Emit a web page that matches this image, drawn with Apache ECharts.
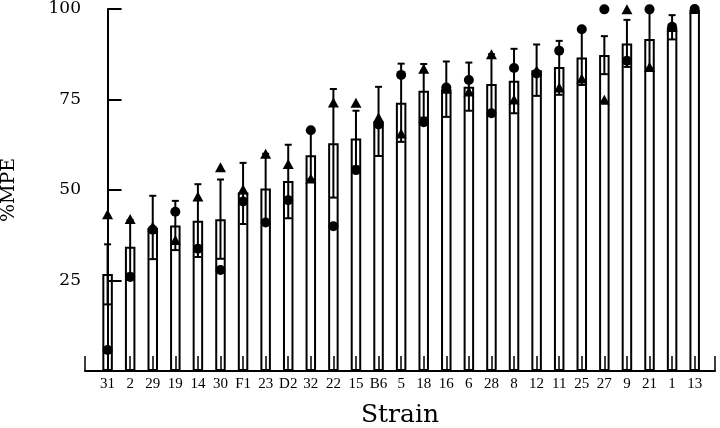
<!DOCTYPE html>
<html>
<head>
<meta charset="utf-8">
<script src="https://cdn.jsdelivr.net/npm/echarts@6/dist/echarts.min.js"></script>
<style>
  html, body { margin: 0; padding: 0; background: #fff; }
  #main { width: 720px; height: 428px; }
</style>
</head>
<body>
<div id="main"></div>
<script>
var strains = ['31','2','29','19','14','30','F1','23','D2','32','22','15','B6','5','18','16','6','28','8','12','11','25','27','9','21','1','13'];
var mpe = [26.8,34.3,39.5,40.2,41.5,41.9,49.3,50.4,52.5,59.6,62.9,64.2,68.9,74.1,77.4,77.8,78.5,79.3,80.2,83.1,84.0,86.6,87.3,90.5,91.7,94.8,99.7];
var errHigh = [35,41.7,48.4,47,51.6,52.9,57.5,60,62.5,66.3,77.9,71.9,78.5,84.9,84.8,85.5,85.2,87.5,89,90.2,91.2,94.4,92.5,97,99.9,98.3,99.7];
var errLow = [18.4,26.9,30.9,33.4,31.5,31,40.6,41,42.2,53,47.9,56.5,59.4,63.3,70,70.2,71.9,71.2,71.2,76,76.3,79,82,84,83.6,91.6,99.7];
var triangles = [43.3,42,39.9,36.2,48.2,56.3,50.2,60,57.2,53.2,74.2,74.1,70,65.6,83.5,78,77.2,87.5,75,83,78.3,80.8,74.9,99.9,84,95,100];
var circles = [5.8,26,39,44,33.8,27.9,46.8,41,47.2,66.5,40,55.5,68.1,81.8,68.7,78.3,80.4,71.2,83.7,82.2,88.5,94.4,99.9,85.7,99.9,95.1,100];
var yTicks = [25, 50, 75, 100];

var myChart = echarts.init(document.getElementById('main'));

var barData = [], errData = [], triData = [], cirData = [];
for (var i = 0; i < strains.length; i++) {
  barData.push([i, mpe[i]]);
  errData.push([i, errLow[i], errHigh[i]]);
  triData.push([i, triangles[i]]);
  cirData.push([i, circles[i]]);
}

// error bar: vertical line with small caps
function renderErr(params, api) {
  var x = api.value(0);
  var lo = api.coord([x, api.value(1)]);
  var hi = api.coord([x, api.value(2)]);
  if (Math.abs(lo[1] - hi[1]) < 1) return;
  var w = 3.5;
  var st = { stroke: '#000', lineWidth: 2 };
  return {
    type: 'group',
    children: [
      { type: 'line', shape: { x1: hi[0], y1: hi[1], x2: lo[0], y2: lo[1] }, style: st },
      { type: 'line', shape: { x1: hi[0] - w, y1: hi[1], x2: hi[0] + w, y2: hi[1] }, style: st },
      { type: 'line', shape: { x1: lo[0] - w, y1: lo[1], x2: lo[0] + w, y2: lo[1] }, style: st }
    ]
  };
}

var option = {
  backgroundColor: '#fff',
  animation: false,
  grid: { left: 85, right: 5, top: 9, bottom: 57, outerBoundsMode: 'none', containLabel: false },
  xAxis: {
    type: 'value',
    min: -1,
    max: 26.9,
    interval: 1,
    z: 10,
    name: 'Strain',
    nameLocation: 'middle',
    nameGap: 32,
    nameTextStyle: { fontFamily: 'DejaVu Serif', fontSize: 25, color: '#000' },
    axisLine: { lineStyle: { color: '#000', width: 2 } },
    axisTick: { inside: true, length: 15, lineStyle: { color: '#000', width: 1.5 } },
    splitLine: { show: false },
    axisLabel: {
      margin: 6,
      color: '#000',
      fontFamily: 'Liberation Serif',
      fontSize: 15,
      formatter: function (v) {
        var k = Math.round(v);
        if (Math.abs(v - k) > 0.01 || k < 0 || k >= strains.length) return '';
        return strains[k];
      }
    }
  },
  yAxis: {
    type: 'value',
    min: 0,
    max: 100,
    interval: 25,
    z: 10,
    name: '%MPE',
    nameLocation: 'middle',
    nameGap: 66,
    nameTextStyle: { fontFamily: 'DejaVu Serif', fontSize: 19, color: '#000' },
    axisLine: { show: true, lineStyle: { color: '#000', width: 2 } },
    axisTick: { show: true, inside: true, length: 14, lineStyle: { color: '#000', width: 2 } },
    splitLine: { show: false },
    axisLabel: {
      margin: 4,
      color: '#000',
      fontFamily: 'DejaVu Serif',
      fontSize: 17,
      formatter: function (v) { return yTicks.indexOf(v) >= 0 ? String(v) : ''; }
    }
  },
  series: [
    {
      type: 'bar',
      data: barData,
      barWidth: 10.5,
      itemStyle: { color: '#fff', borderColor: '#000', borderWidth: 2 },
      z: 1
    },
    {
      type: 'custom',
      renderItem: renderErr,
      data: errData,
      encode: { x: 0, y: [1, 2] },
      z: 3
    },
    {
      type: 'scatter',
      data: triData,
      symbol: 'triangle',
      symbolSize: [11, 10],
      itemStyle: { color: '#000', opacity: 1 },
      z: 4
    },
    {
      type: 'scatter',
      data: cirData,
      symbol: 'circle',
      symbolSize: 10,
      itemStyle: { color: '#000', opacity: 1 },
      z: 5
    }
  ]
};

myChart.setOption(option);
</script>
</body>
</html>
